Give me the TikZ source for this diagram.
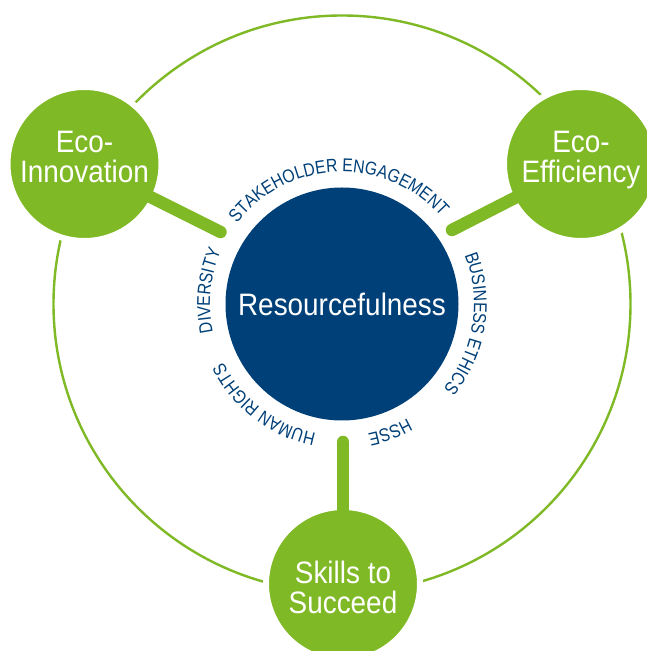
\documentclass[tikz,border=0pt]{standalone}
\usepackage{fontspec}
\setmainfont{Liberation Sans}
\newfontfamily\condfont[FakeStretch=0.9]{Liberation Sans}
\newfontfamily\ringfont[FakeStretch=0.85]{Liberation Sans}
\usetikzlibrary{decorations.text}
\definecolor{ecogreen}{RGB}{128,185,38}
\definecolor{coreblue}{RGB}{0,64,120}

\begin{document}
\begin{tikzpicture}[
    x=1pt, y=1pt,
    hub/.style={circle, fill=ecogreen, draw=white, line width=6pt, minimum size=154pt, inner sep=0pt},
    hubtext/.style={align=center, text=white, font=\condfont\fontsize{31}{30}\selectfont},
    core/.style={circle, fill=coreblue, minimum size=233pt, inner sep=0pt, text=white, font=\condfont\fontsize{31}{30}\selectfont},
    ring/.style={draw=ecogreen, line width=2.4pt},
    spoke/.style={draw=ecogreen, line width=12.5pt, line cap=round},
    arclabel/.style={decorate, decoration={text along path, text align=center, text color=coreblue,
        text={|\ringfont\fontsize{18.5}{18.5}\selectfont|#1}}}
]
    \useasboundingbox (0,0) rectangle (646,651);
    \fill[white] (0,0) rectangle (646,651);

    % outer ring and the core
    \coordinate (mid) at (342,347);
    \draw[ring] (mid) circle[radius=288.5];
    \node[core] (core) at (mid) {Resourcefulness};

    % three hubs on the ring
    \node[hub] (innov) at (84.5,487) {};
    \node[hub] (eff) at (581,487) {};
    \node[hub] (skill) at (343,67) {};

    % spokes towards the core
    \coordinate (innovtip) at (220.5,419);
    \coordinate (efftip) at (452,421);
    \coordinate (skilltip) at (343,209);
    \draw[spoke] (innov.center) -- (innovtip);
    \draw[spoke] (eff.center) -- (efftip);
    \draw[spoke] (skill.center) -- (skilltip);

    \node[hubtext] (innovtext) at ([yshift=7pt]innov.center) {Eco-\\Innovation};
    \node[hubtext] (efftext) at ([yshift=4pt]eff.center) {Eco-\\Efficiency};
    \node[hubtext] (skilltext) at ([yshift=-3pt]skill.center) {Skills to\\Succeed};

    % values around the core, read clockwise
    \path[arclabel={STAKEHOLDER ENGAGEMENT}] ([shift={(142:132)}]mid) arc[start angle=142, end angle=42, radius=132];
    \path[arclabel={BUSINESS ETHICS}] ([shift={(31:132)}]mid) arc[start angle=31, end angle=-49, radius=132];
    \path[arclabel={HSSE}] ([shift={(-54.5:132)}]mid) arc[start angle=-54.5, end angle=-84.5, radius=132];
    \path[arclabel={HUMAN RIGHTS}] ([shift={(-92.7:132)}]mid) arc[start angle=-92.7, end angle=-162.7, radius=132];
    \path[arclabel={DIVERSITY}] ([shift={(199.3:132)}]mid) arc[start angle=199.3, end angle=149.3, radius=132];
\end{tikzpicture}
\end{document}
